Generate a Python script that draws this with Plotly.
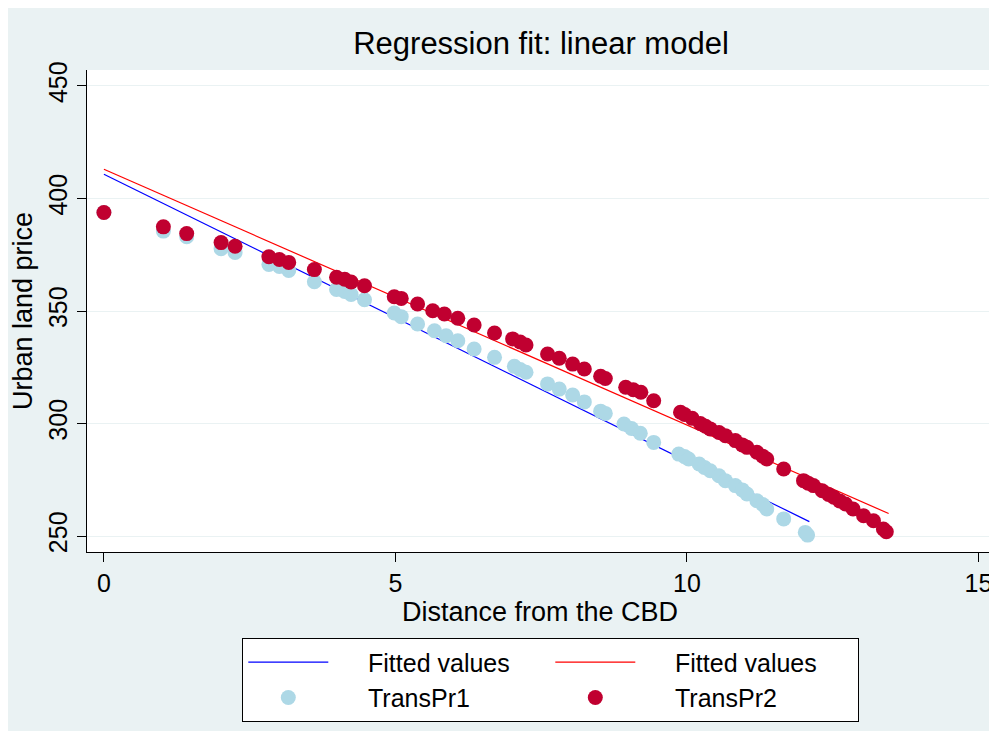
import plotly.graph_objects as go

# ---- data ----
dist1 = [0.00, 1.02, 1.42, 2.01, 2.25, 2.83, 3.01, 3.17, 3.61, 3.99, 4.13, 4.24, 4.47,
         4.98, 5.10, 5.38, 5.67, 5.87, 6.07, 6.35, 6.70, 7.04, 7.14, 7.24, 7.61, 7.81,
         8.04, 8.24, 8.52, 8.60, 8.92, 9.05, 9.20, 9.43, 9.86, 9.96, 10.03, 10.21, 10.30,
         10.40, 10.55, 10.66, 10.83, 10.95, 11.03, 11.20, 11.30, 11.37, 11.66, 12.03, 12.07]
transpr1 = [393.8, 385.5, 383.0, 377.7, 376.0, 370.7, 369.8, 368.0, 363.0, 359.6, 358.7, 357.3, 355.0,
            349.1, 347.5, 344.2, 341.2, 339.0, 336.8, 333.1, 329.4, 325.4, 324.0, 322.8, 317.6, 315.3,
            312.7, 309.6, 305.5, 304.5, 299.8, 297.8, 295.7, 291.6, 286.4, 285.3, 284.2, 282.0, 280.5,
            279.0, 276.8, 274.6, 272.4, 270.5, 268.7, 265.7, 264.0, 262.0, 257.6, 251.6, 250.4]

dist2 = [0.00, 1.02, 1.42, 2.01, 2.25, 2.83, 3.01, 3.17, 3.61, 3.99, 4.13, 4.24, 4.47,
         4.98, 5.10, 5.38, 5.64, 5.84, 6.07, 6.35, 6.70, 7.01, 7.14, 7.24, 7.61, 7.81,
         8.04, 8.24, 8.52, 8.60, 8.95, 9.08, 9.21, 9.43, 9.89, 9.96, 10.09, 10.23, 10.32,
         10.40, 10.55, 10.66, 10.83, 10.95, 11.03, 11.20, 11.30, 11.37, 11.66, 12.00, 12.08,
         12.17, 12.32, 12.43, 12.52, 12.62, 12.72, 12.85, 13.03, 13.20, 13.37, 13.42]
transpr2 = [393.8, 387.4, 384.4, 380.4, 378.8, 374.1, 372.9, 371.6, 368.4, 365.0, 364.1, 362.9, 361.2,
            356.3, 355.6, 353.1, 350.1, 348.7, 346.8, 343.8, 340.2, 337.6, 336.2, 334.9, 330.9, 329.0,
            326.4, 324.2, 321.0, 320.0, 316.1, 315.0, 313.9, 310.1, 305.0, 304.0, 302.3, 300.0, 298.8,
            297.6, 296.0, 294.6, 292.4, 290.5, 289.4, 287.2, 285.5, 284.2, 279.8, 274.6, 273.5,
            272.4, 270.1, 268.5, 267.2, 265.6, 264.2, 262.0, 259.0, 256.8, 253.1, 251.9]

fit1_x = [0.0, 12.1]
fit1_y = [410.8, 256.4]
fit2_x = [0.0, 13.46]
fit2_y = [413.0, 260.0]

x_ticks = [0, 5, 10, 15]
y_ticks = [250, 300, 350, 400, 450]

BG = "#EAF2F3"
FONT = "Liberation Sans, Arial, sans-serif"
PAD = "\u00a0\u00a0\u00a0\u00a0\u00a0"

fig = go.Figure()
fig.add_trace(go.Scatter(x=fit1_x, y=fit1_y, mode="lines", name=PAD + "Fitted values",
                         line=dict(color="#0000FF", width=1.2)))
fig.add_trace(go.Scatter(x=fit2_x, y=fit2_y, mode="lines", name=PAD + "Fitted values",
                         line=dict(color="#FF0000", width=1.2)))
fig.add_trace(go.Scatter(x=dist1, y=transpr1, mode="markers", name=PAD + "TransPr1",
                         marker=dict(color="#ADD8E6", size=15, line=dict(width=0))))
fig.add_trace(go.Scatter(x=dist2, y=transpr2, mode="markers", name=PAD + "TransPr2",
                         marker=dict(color="#C00030", size=15, line=dict(width=0))))

# page has an 8px body margin, so the figure is 8px smaller and offset
OFF = 8
W, H = 997 - OFF, 731 - OFF
L, R, T, B = 87 - OFF, 4, 70 - OFF, 179
pw, ph = W - L - R, H - T - B

def px2paper_x(p):
    return (p - OFF - L) / pw

def px2paper_y(p):
    return (H - B - (p - OFF)) / ph

fig.update_layout(
    width=W, height=H,
    margin=dict(l=L, r=R, t=T, b=B, pad=0, autoexpand=False),
    paper_bgcolor=BG,
    plot_bgcolor="white",
    font=dict(family=FONT, color="#000000"),
    title=dict(text="Regression fit: linear model", x=px2paper_x(541), xref="paper",
               xanchor="center", y=1 - (43 - OFF) / H, yanchor="middle",
               font=dict(size=31, family=FONT, color="#000000")),
    xaxis=dict(range=[-0.29, 15.25], tickvals=x_ticks, ticktext=[str(v) for v in x_ticks],
               automargin=False,
               showgrid=False, zeroline=False, showline=True, linecolor="black", linewidth=1.3,
               ticks="outside", ticklen=9, tickcolor="black", tickwidth=1.3,
               tickfont=dict(size=25, family=FONT, color="#000000"),
               title=dict(text="Distance from the CBD", font=dict(size=27, family=FONT, color="#000000"),
                          standoff=1)),
    yaxis=dict(range=[242.9, 457.1], tickvals=y_ticks, ticktext=[str(v) for v in y_ticks],
               automargin=False,
               showgrid=True, gridcolor=BG, gridwidth=1.2, zeroline=False,
               showline=True, linecolor="black", linewidth=1.3,
               ticks="outside", ticklen=9, tickcolor="black", tickwidth=1.3, tickangle=-90,
               tickfont=dict(size=25, family=FONT, color="#000000"),
               title=dict(text="Urban land price", font=dict(size=27, family=FONT, color="#000000"),
                          standoff=3)),
    legend=dict(orientation="h", x=px2paper_x(242), xanchor="left", y=px2paper_y(638), yanchor="top",
                bgcolor="white", bordercolor="black", borderwidth=1.3,
                font=dict(size=25, family=FONT, color="#000000"),
                itemwidth=80, entrywidth=212, entrywidthmode="pixels", tracegroupgap=0),
    showlegend=True,
)

fig.write_html("out.html")
